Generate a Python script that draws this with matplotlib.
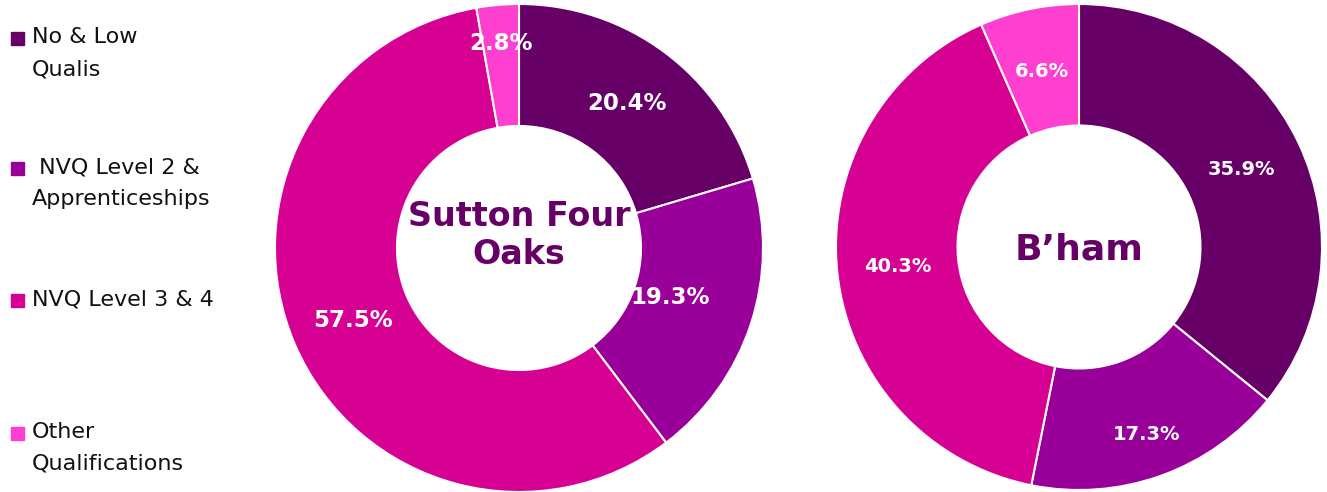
import numpy as np
import matplotlib.pyplot as plt
from matplotlib.patches import Rectangle

categories = ["No & Low\nQualis", " NVQ Level 2 &\nApprenticeships", "NVQ Level 3 & 4", "Other\nQualifications"]
sutton_vals = [20.4, 19.3, 57.5, 2.8]
bham_vals = [35.9, 17.3, 40.3, 6.6]
colors = ["#660066", "#990099", "#D60093", "#FF3FCF"]

W, H = 1327, 492
fig = plt.figure(figsize=(W / 100, H / 100), dpi=100)

def donut(cx, cy, r, vals, title, weight, fsize, label_r, title_size, title_dy):
    ax = fig.add_axes([(cx - r) / W, 1 - (cy + r) / H, 2 * r / W, 2 * r / H])
    wedges, texts, autotexts = ax.pie(vals, colors=colors, startangle=90, counterclock=False,
                                      autopct="%.1f%%", pctdistance=0.74,
                                      wedgeprops=dict(width=0.5, edgecolor="white", linewidth=1.5),
                                      textprops=dict(color="white", fontsize=fsize, fontweight=weight))
    # nudge labels out or in like the original
    for w, t, lr in zip(wedges, autotexts, label_r):
        ang = np.deg2rad((w.theta1 + w.theta2) / 2)
        t.set_position((lr * np.cos(ang), lr * np.sin(ang)))
    ax.set_xlim(-1, 1)
    ax.set_ylim(-1, 1)
    ax.set_aspect("equal")
    ax.text(0, title_dy, title, ha="center", va="center", color="#660066",
            fontsize=title_size, fontweight="bold", linespacing=1.2)
    return ax

donut(519, 248, 244, sutton_vals, "Sutton Four\nOaks", "bold", 16.5,
      [0.74, 0.65, 0.74, 0.84], 24, 0.05)
donut(1079, 247, 243, bham_vals, "B\u2019ham", "bold", 14,
      [0.74, 0.82, 0.75, 0.74], 26, -0.01)

# legend down the left side
ys = [38, 168, 300, 433]
for lab, c, y in zip(categories, colors, ys):
    fig.patches.append(Rectangle((11 / W, 1 - (y + 7) / H), 13 / W, 13 / H,
                                 transform=fig.transFigure, color=c))
    fig.text(32 / W, 1 - (y - 11) / H, lab, ha="left", va="top", fontsize=16,
             color="#111111", linespacing=1.75)

fig.savefig("out.png", dpi=100)
